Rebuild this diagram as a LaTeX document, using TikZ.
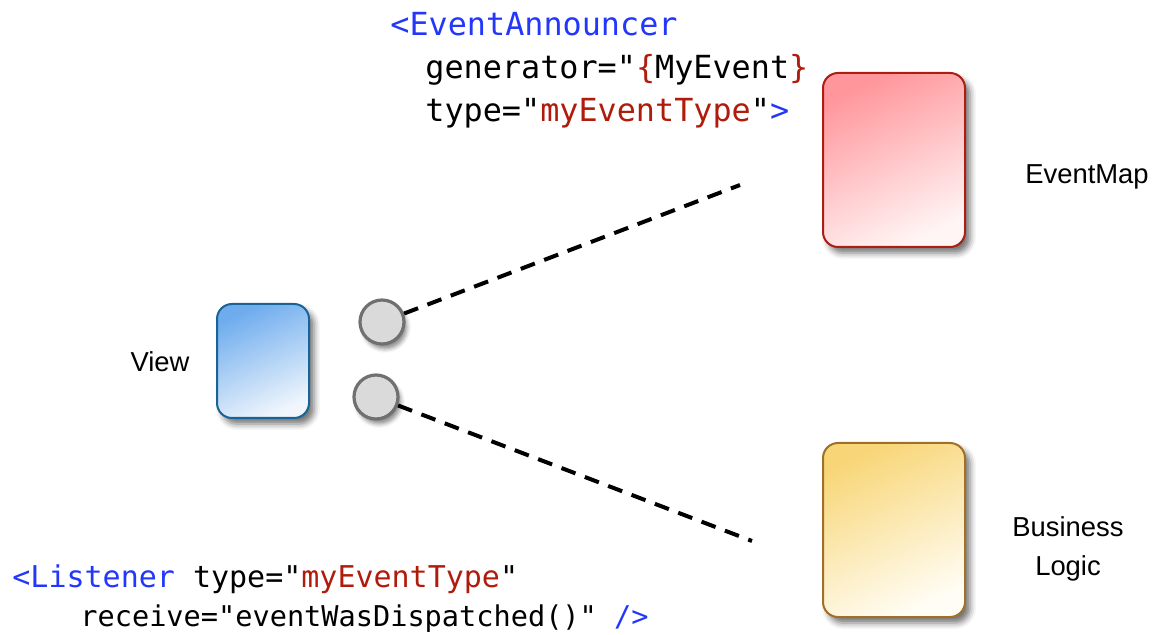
\documentclass[tikz,border=0pt]{standalone}
\usepackage{fontspec}
\setmainfont{Liberation Sans}
\newfontfamily\codefont{DejaVu Sans Mono}
\usetikzlibrary{shadows.blur}
\definecolor{tagblue}{RGB}{35,55,250}
\definecolor{strred}{RGB}{176,28,12}
\definecolor{redborder}{RGB}{170,30,20}
\definecolor{redtop}{RGB}{255,150,155}
\definecolor{redbot}{RGB}{255,245,245}
\definecolor{yelborder}{RGB}{160,112,40}
\definecolor{yeltop}{RGB}{248,214,120}
\definecolor{yelbot}{RGB}{255,253,245}
\definecolor{bluborder}{RGB}{25,100,150}
\definecolor{blutop}{RGB}{110,172,238}
\definecolor{blubot}{RGB}{240,246,252}
\tikzset{
  card/.style={rounded corners=7.5pt, line width=1pt, inner sep=0pt,
    blur shadow={shadow xshift=2.5pt, shadow yshift=-3pt, shadow blur radius=3pt, shadow opacity=55}},
  port/.style={circle, minimum size=22pt, inner sep=0pt, line width=1.6pt, draw={rgb,255:red,112;green,112;blue,112},
    fill={rgb,255:red,218;green,218;blue,218},
    blur shadow={shadow xshift=1.5pt, shadow yshift=-2.5pt, shadow blur radius=2pt, shadow opacity=45}},
  wire/.style={line width=2pt, dash pattern=on 7.5pt off 5pt},
  code/.style={font=\codefont\fontsize{15.9}{19}\selectfont, anchor=base west, inner sep=0pt},
  codea/.style={font=\codefont\fontsize{15.0}{18}\selectfont, anchor=base west, inner sep=0pt},
  codeb/.style={font=\codefont\fontsize{14.3}{18}\selectfont, anchor=base west, inner sep=0pt},
  lbl/.style={font=\fontsize{13.7}{18}\selectfont, align=center, inner sep=0pt}
}
\begin{document}
\begin{tikzpicture}[x=0.5pt,y=-0.5pt]
\useasboundingbox (0,0) rectangle (1155,635);
% boxes
\node[card, draw=redborder, top color=redtop, bottom color=redbot, shading angle=25, minimum width=71pt, minimum height=87pt] (em) at (894,160) {};
\node[card, draw=yelborder, top color=yeltop, bottom color=yelbot, shading angle=25, minimum width=71pt, minimum height=87pt] (bl) at (894,530) {};
\node[card, draw=bluborder, top color=blutop, bottom color=blubot, shading angle=25, minimum width=46pt, minimum height=57pt] (view) at (263,361) {};
% ports
\node[port] (p1) at (382,322) {};
\node[port] (p2) at (376,397) {};
% wires
\coordinate (e1) at (740,185);
\coordinate (e2) at (752,541);
\draw[wire] (p1) -- (e1);
\draw[wire] (p2) -- (e2);
% labels
\node[lbl] (lview) at (160,362) {View};
\node[lbl] (lem) at (1087,177) {EventMap};
\node[lbl] (lbl) at (1068,549) {Business\\[1.5pt]Logic};
% code
\node[code] (ea1) at (390,36) {\textcolor{tagblue}{<EventAnnouncer}};
\node[code] (ea2) at (425,79) {generator="\textcolor{strred}{\{}MyEvent\textcolor{strred}{\}}};
\node[code] (ea3) at (425,122) {type="\textcolor{strred}{myEventType}"\textcolor{tagblue}{>}};
\node[codea] (ls1) at (12,587) {\textcolor{tagblue}{<Listener} type="\textcolor{strred}{myEventType}"};
\node[codeb] (ls2) at (80,626) {receive="eventWasDispatched()" \textcolor{tagblue}{/>}};
\end{tikzpicture}
\end{document}
